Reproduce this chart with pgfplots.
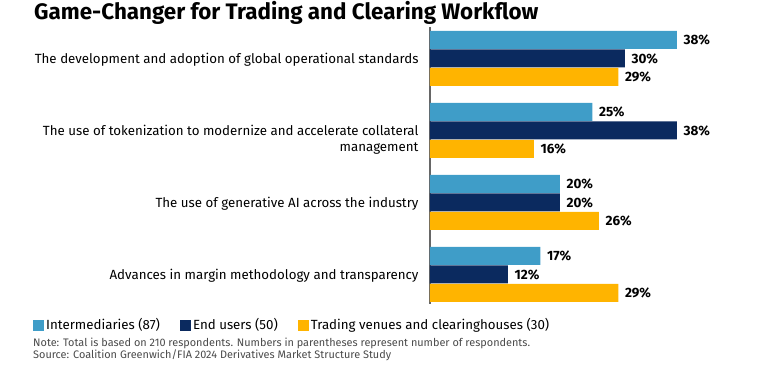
\documentclass[border=0pt]{standalone}
\usepackage{pgfplots}
\pgfplotsset{compat=1.18}
\usepackage{fontspec}
\setmainfont{Fira Sans}
\definecolor{lblue}{HTML}{3F9DC8}
\definecolor{navy}{HTML}{0B2A5F}
\definecolor{gold}{HTML}{FFB400}
\definecolor{notegray}{HTML}{4A4A4A}
\begin{document}
\begin{tikzpicture}[x=1pt,y=1pt]
\useasboundingbox (0,0) rectangle (758,380);
\node[anchor=base west,font=\fontsize{22.4}{26}\selectfont\bfseries,inner sep=0] at (34,360) {Game-Changer for Trading and Clearing Workflow};
\begin{axis}[
  at={(430pt,76pt)}, anchor=south west,
  scale only axis, width=325pt, height=277pt,
  xbar, bar width=18pt, bar shift=0pt,
  xmin=0, xmax=50,
  ymin=-0.4375, ymax=3.41, y dir=reverse,
  hide x axis,
  axis y line*=left,
  y axis line style={draw=gray!80!black, line width=1.5pt, -},
  ytick={0,1,2,3},
  major tick length=0pt,
  yticklabels={
    {The development and adoption of global operational standards},
    {\begin{tabular}[t]{@{}r@{}}The use of tokenization to modernize and accelerate collateral\\[0pt]management\end{tabular}},
    {The use of generative AI across the industry},
    {Advances in margin methodology and transparency}},
  y tick label style={font=\fontsize{13.3}{16.5}\selectfont, anchor=base east, yshift=-4.8pt, xshift=-8pt, align=right},
  /pgf/number format/assume math mode=true,
  point meta=x,
  nodes near coords={\pgfmathprintnumber{\pgfplotspointmeta}\%},
  nodes near coords style={font=\fontsize{13.5}{15}\selectfont\bfseries, anchor=west, xshift=3pt, text=black},
  legend style={at={(-1.2215,-0.0758)}, anchor=west, draw=none, fill=none, inner sep=0pt,
    font=\fontsize{13.3}{15}\selectfont, legend columns=3,
    /tikz/every even column/.append style={column sep=18pt},
    legend cell align=left},
  legend image code/.code={\fill[#1] (0pt,-5.5pt) rectangle (11pt,5.5pt);},
  clip=false,
]
\addplot[fill=lblue, draw=none] coordinates {(38,-0.257) (25,0.743) (20,1.743) (17,2.743)};
\addplot[fill=navy, draw=none] coordinates {(30,0) (38,1) (20,2) (12,3)};
\addplot[fill=gold, draw=none] coordinates {(29,0.257) (16,1.257) (26,2.257) (29,3.257)};
\legend{Intermediaries (87), End users (50), Trading venues and clearinghouses (30)}
\end{axis}
\node[anchor=base west,font=\fontsize{10.9}{13}\selectfont,text=notegray,inner sep=0,align=left] at (33,33) {Note: Total is based on 210 respondents. Numbers in parentheses represent number of respondents.};
\node[anchor=base west,font=\fontsize{10.9}{13}\selectfont,text=notegray,inner sep=0,align=left] at (33,21) {Source: Coalition Greenwich/FIA 2024 Derivatives Market Structure Study};
\end{tikzpicture}
\end{document}
